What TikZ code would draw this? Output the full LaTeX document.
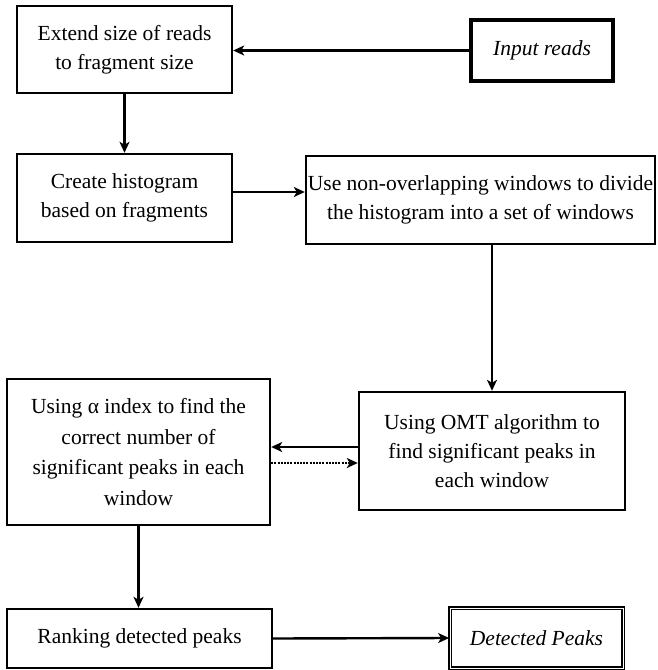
\documentclass[tikz,border=0pt]{standalone}
\usepackage{fontspec}
\setmainfont{Liberation Serif}
\usetikzlibrary{arrows.meta,calc}
\begin{document}
\begin{tikzpicture}[x=1pt,y=-1pt,
 box/.style={draw,line width=2.4pt,align=center,inner sep=0pt,font=\fontsize{21.5}{29}\selectfont},
 iobox/.style={box,line width=3.6pt,font=\fontsize{21.5}{29}\selectfont\itshape},
 dblbox/.style={box,double,double distance=1pt,line width=1.8pt,font=\fontsize{21.5}{29}\selectfont\itshape},
 arr/.style={line width=2.4pt,-{Stealth[length=11pt,width=10pt,inset=3pt]}},
 dotarr/.style={arr,dash pattern=on 2pt off 1.2pt},
]
\useasboundingbox (0,0) rectangle (657,670);
\node[box,minimum width=215pt,minimum height=87pt] (b1) at (124.5,49.5) {Extend size of reads\\to fragment size};
\node[iobox,minimum width=142pt,minimum height=61pt] (inp) at (542,50.5) {Input reads};
\node[box,minimum width=215pt,minimum height=88pt] (b2) at (124.5,198) {Create histogram\\based on fragments};
\node[box,minimum width=349pt,minimum height=88pt] (b3) at (480.5,200) {Use non-overlapping windows to divide\\the histogram into a set of windows};
\node[box,minimum width=266pt,minimum height=118pt] (omt) at (492,451) {Using OMT algorithm to\\find significant peaks in\\each window};
\node[box,minimum width=263pt,minimum height=146pt,font=\fontsize{21.5}{30.5}\selectfont] (alpha) at (138.5,452) {Using α index to find the\\correct number of\\significant peaks in each\\window};
\node[box,minimum width=265pt,minimum height=59pt] (rank) at (139.5,638.5) {Ranking detected peaks};
\node[dblbox,minimum width=173pt,minimum height=60pt] (det) at (536.5,638) {Detected Peaks};

\draw[arr] (inp.west) -- (inp.west -| b1.east);
\draw[arr] (b1.south) -- (b2.north);
\draw[arr] ([yshift=6pt]b2.east) -- ([yshift=6pt]b2.east -| b3.west);
\draw[arr] (b3.south -| omt.north) -- (omt.north);
\draw[arr] ([yshift=4pt]omt.west) -- ([yshift=4pt]omt.west -| alpha.east);
\draw[dotarr] ([yshift=-11pt]alpha.east) -- ([yshift=-11pt]alpha.east -| omt.west);
\draw[arr] (alpha.south) -- (alpha.south |- rank.north);
\draw[arr] (rank.east) -- (det.west);
\end{tikzpicture}
\end{document}
